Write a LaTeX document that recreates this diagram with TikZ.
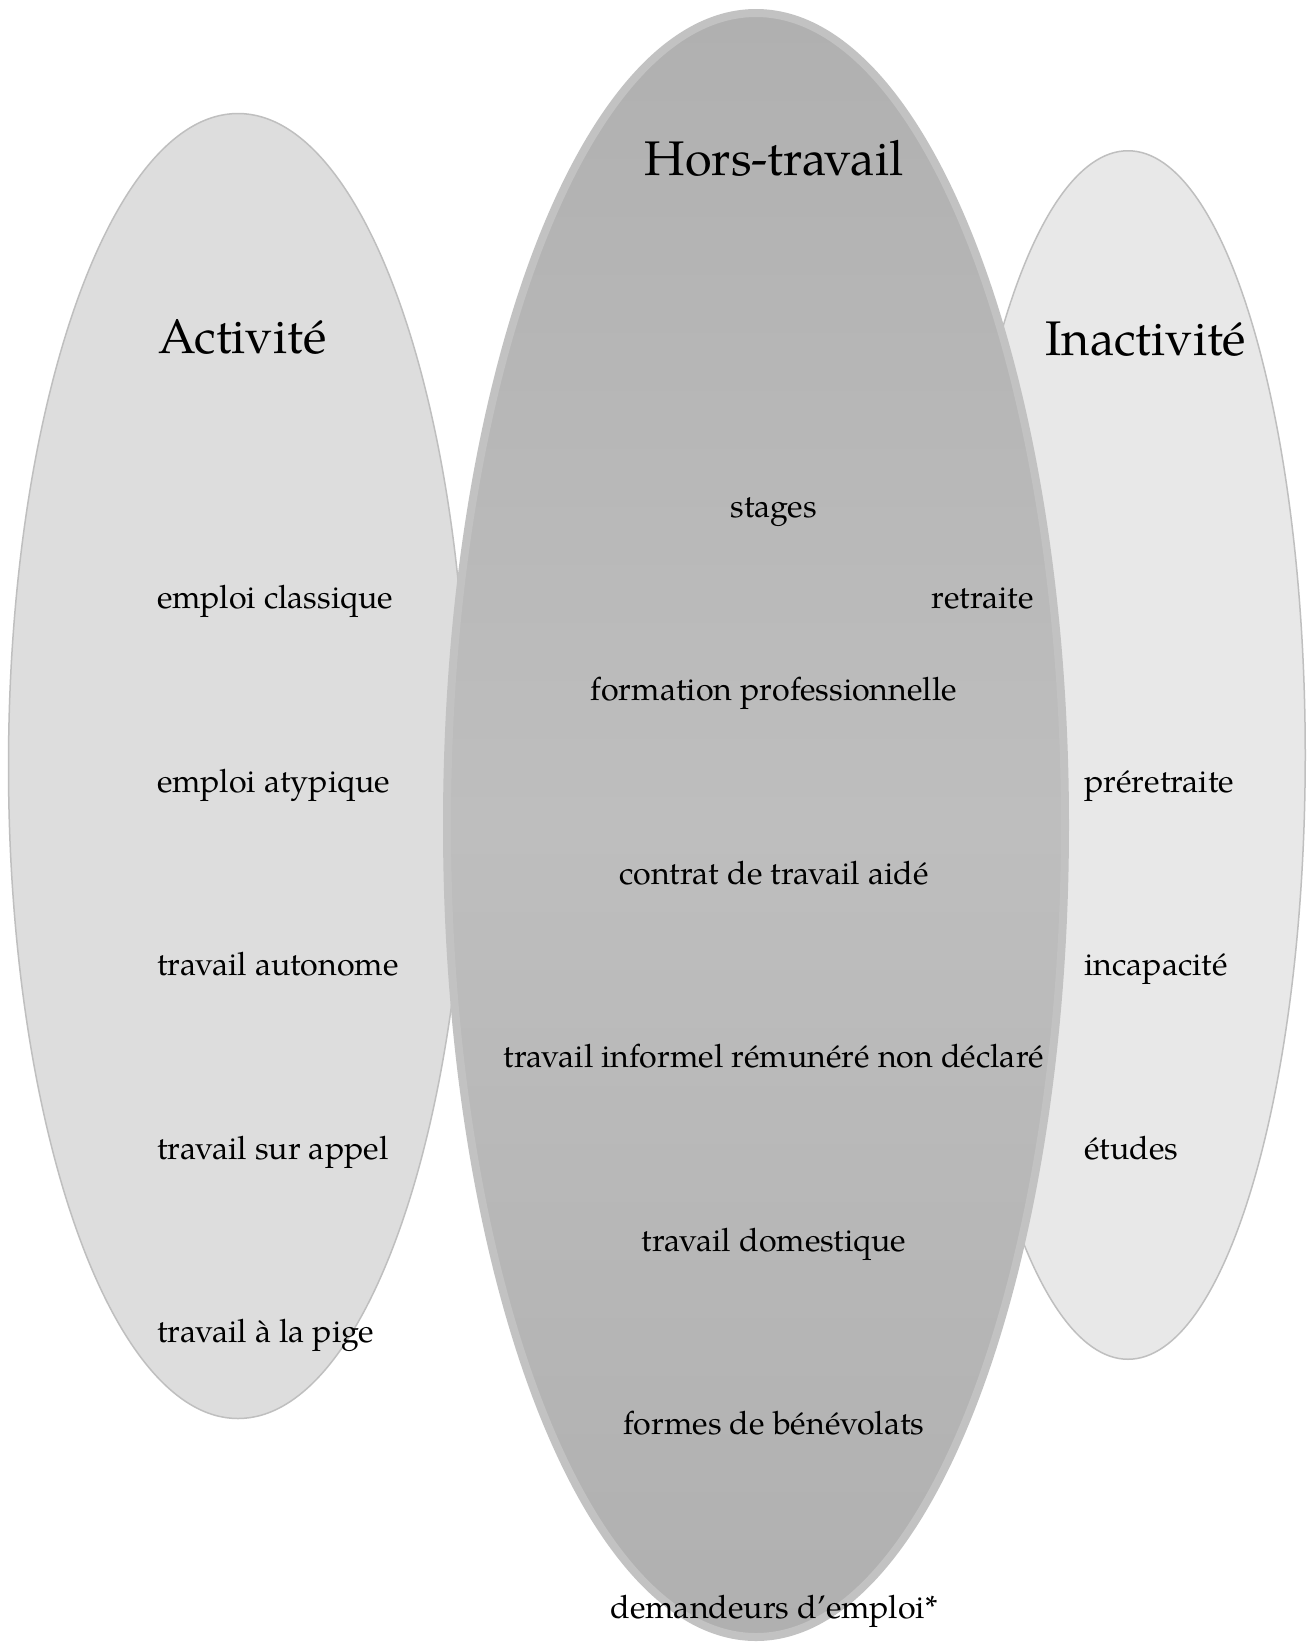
\documentclass[tikz,border=0pt]{standalone}
\usepackage{fontspec}
\setmainfont{texgyrepagella-regular.otf}
\usetikzlibrary{shapes.geometric}
\definecolor{actfill}{HTML}{DDDDDD}
\definecolor{inafill}{HTML}{E8E8E8}
\definecolor{ovaledge}{HTML}{BFBFBF}
\definecolor{horsdark}{HTML}{B0B0B0}
\definecolor{horslight}{HTML}{BEBEBE}
\definecolor{horsedge}{HTML}{C2C2C2}
\begin{document}
\begin{tikzpicture}[x=0.5pt,y=-0.5pt,
  oval/.style={ellipse, inner sep=0pt, outer sep=0pt},
  item/.style={font=\fontsize{16.1}{19}\selectfont, inner sep=0pt, anchor=base west},
  citem/.style={item, anchor=base},
  title/.style={font=\fontsize{24.3}{29}\selectfont, inner sep=0pt, anchor=base west}]
\useasboundingbox (0,0) rectangle (1307,1646);
\fill[white] (0,0) rectangle (1307,1646);
% ellipses
\node[oval, draw=ovaledge, line width=0.75pt, fill=actfill,
      minimum width=229.5pt, minimum height=652.5pt] (act) at (238,766) {};
\node[oval, draw=ovaledge, line width=0.75pt, fill=inafill,
      minimum width=177.25pt, minimum height=604.25pt] (ina) at (1128,755) {};
\node[oval, draw=horsedge, line width=4pt,
      top color=horsdark, bottom color=horsdark, middle color=horslight,
      minimum width=309pt, minimum height=812pt] (hors) at (756,825) {};
% titles
\node[title] (tAct) at (158,353) {Activité};
\node[title] (tIna) at (1045,355) {Inactivité};
\node[title, anchor=base] (tHors) at (774,175) {Hors-travail};
% left column
\node[item] (a1) at (157,608) {emploi classique};
\node[item] (a2) at (157,792) {emploi atypique};
\node[item] (a3) at (157,975) {travail autonome};
\node[item] (a4) at (157,1159) {travail sur appel};
\node[item] (a5) at (157,1342) {travail à la pige};
% middle column
\node[citem] (h1) at (774,517) {stages};
\node[citem] (h2) at (774,700) {formation professionnelle};
\node[citem] (h3) at (774,884) {contrat de travail aidé};
\node[citem] (h4) at (774,1067) {travail informel rémunéré non déclaré};
\node[citem] (h5) at (774,1251) {travail domestique};
\node[citem] (h6) at (774,1434) {formes de bénévolats};
\node[citem] (h7) at (774,1618) {demandeurs d’emploi*};
\node[item, anchor=base east] (ret) at (1034,608) {retraite};
% right column
\node[item] (i1) at (1084,792) {préretraite};
\node[item] (i2) at (1084,975) {incapacité};
\node[item] (i3) at (1084,1159) {études};
\end{tikzpicture}
\end{document}
